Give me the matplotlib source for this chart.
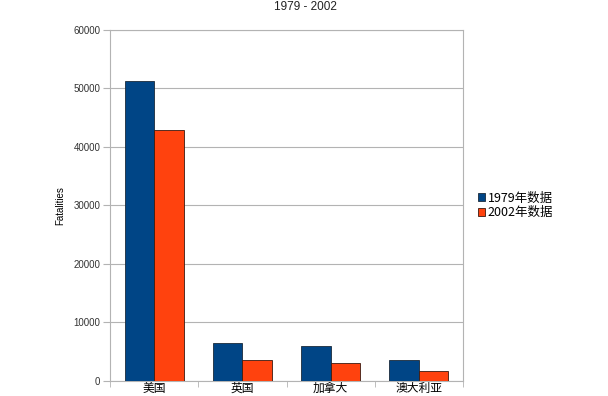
import matplotlib
matplotlib.use('Agg')
import matplotlib.pyplot as plt
import numpy as np

plt.rcParams['font.family'] = ['Liberation Sans', 'Noto Sans CJK SC', 'DejaVu Sans']

# data
countries = ['美国', '英国', '加拿大', '澳大利亚']
fatal1979 = [51200, 6450, 5980, 3540]
fatal2002 = [42900, 3540, 3030, 1780]
seriesNames = ['1979年数据', '2002年数据']
yTicks = [0, 10000, 20000, 30000, 40000, 50000, 60000]

blue = '#004586'
orange = '#ff420e'
grey = '#b3b3b3'

fig = plt.figure(figsize=(6.08, 3.96), dpi=100)
ax = fig.add_axes([0.181, 0.038, 0.5805, 0.8865])

x = np.arange(len(countries))
w = 0.335
ax.bar(x - w/2, fatal1979, w, color=blue, edgecolor='#1a2a3a', linewidth=0.6, label=seriesNames[0], zorder=3)
ax.bar(x + w/2, fatal2002, w, color=orange, edgecolor='#3a1a10', linewidth=0.6, label=seriesNames[1], zorder=3)

ax.set_xlim(-0.5, len(countries) - 0.5)
ax.set_ylim(0, 60000)
ax.set_yticks(yTicks)
ax.set_yticklabels([str(t) for t in yTicks], fontsize=7, color='#333333')
ax.yaxis.grid(True, color=grey, linewidth=0.8, zorder=0)

# category labels in the middle, tick marks at the group boundaries
ax.set_xticks(x)
ax.set_xticklabels(countries, fontsize=8.5, family=['Noto Sans CJK SC', 'DejaVu Sans'])
ax.tick_params(axis='x', length=0, pad=0.5)
ax.set_xticks(np.arange(len(countries) + 1) - 0.5, minor=True)
ax.tick_params(axis='x', which='minor', length=4, color=grey)
ax.tick_params(axis='y', length=5, color=grey, pad=2)

for s in ax.spines.values():
    s.set_color(grey)
    s.set_linewidth(0.8)

ax.set_ylabel('Fatalities', fontsize=7, labelpad=6)

fig.text(0.502, 0.982, '1979 - 2002', ha='center', va='center', fontsize=8.5, color='#222222')

leg = ax.legend(loc='center left', bbox_to_anchor=(1.01, 0.5), frameon=False,
                prop={'family': ['Noto Sans CJK SC', 'DejaVu Sans'], 'size': 9},
                handlelength=0.6, handleheight=0.6, handletextpad=0.2, labelspacing=0.1)

fig.savefig('out.png', dpi=100)
